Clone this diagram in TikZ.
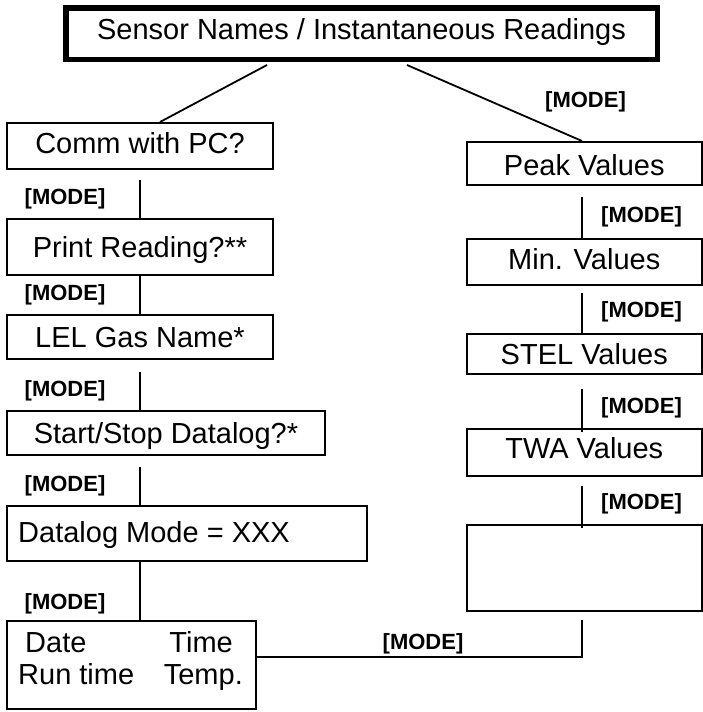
\documentclass[tikz,border=0pt]{standalone}
\usepackage{fontspec}
\setmainfont{Liberation Sans}
\usetikzlibrary{calc}
\begin{document}
\begin{tikzpicture}[x=1pt,y=-1pt,
  box/.style={draw, line width=2pt, inner sep=0pt, font=\fontsize{29}{34}\selectfont, text height=20.8pt, text depth=0pt},
  bigbox/.style={box, line width=5.5pt},
  modelbl/.style={inner sep=0pt, font=\fontsize{22}{26}\selectfont\bfseries, text height=15.75pt, text depth=0pt},
  txt/.style={inner sep=0pt, font=\fontsize{29}{34}\selectfont},
  conn/.style={line width=1.8pt}]
\useasboundingbox (0,0) rectangle (703,712);
% boxes
\node[bigbox, minimum width=591.5pt, minimum height=51.5pt, text depth=9pt] (top) at (361.5,33.5) {Sensor Names / Instantaneous Readings};
\node[box, minimum width=266pt, minimum height=46pt, text depth=5pt] (comm) at (140,146) {Comm with PC?};
\node[box, minimum width=266pt, minimum height=56pt] (print) at (140,247) {Print Reading?**\hspace{12pt}};
\node[box, minimum width=266pt, minimum height=44pt] (lel) at (140,337) {LEL Gas Name*};
\node[box, minimum width=318pt, minimum height=44pt] (start) at (166,433) {Start/Stop Datalog?*};
\node[box, minimum width=360pt, minimum height=55pt] (datalog) at (187,533.5) {};
\node[box, minimum width=249pt, minimum height=88pt] (date) at (131.5,665) {};
\node[box, minimum width=234.5pt, minimum height=43pt, text height=23.8pt] (peak) at (584.25,163.5) {Peak Values};
\node[box, minimum width=234.5pt, minimum height=46pt, text depth=6pt] (min) at (584.25,262) {Min. Values};
\node[box, minimum width=234.5pt, minimum height=40pt] (stel) at (584.25,354) {STEL Values};
\node[box, minimum width=234.5pt, minimum height=47pt, text depth=8pt] (twa) at (584.25,452.5) {TWA Values};
\node[box, minimum width=234.5pt, minimum height=86pt] (empty) at (584.25,568) {};
% texts inside boxes
\node[txt, anchor=west, text height=20.8pt, text depth=0pt] (dltext) at (18,532.5) {Datalog Mode = XXX};
\node[txt, anchor=base west] (dtdate) at (25,652) {Date};
\node[txt, anchor=base east] (dttime) at (233,652) {Time};
\node[txt, anchor=base west] (dtrun) at (18,684) {Run time};
\node[txt, anchor=base east] (dttemp) at (243,684) {Temp.};
% labels
\node[modelbl] (mt) at (585.5,100) {[MODE]};
\node[modelbl] (m1) at (65,197) {[MODE]};
\node[modelbl] (m2) at (65,293) {[MODE]};
\node[modelbl] (m3) at (65,389) {[MODE]};
\node[modelbl] (m4) at (65,484) {[MODE]};
\node[modelbl] (m5) at (65,602) {[MODE]};
\node[modelbl] (r1) at (641.5,215) {[MODE]};
\node[modelbl] (r2) at (641.5,310) {[MODE]};
\node[modelbl] (r3) at (641.5,406) {[MODE]};
\node[modelbl] (r4) at (641.5,502) {[MODE]};
\node[modelbl] (mb) at (423,642) {[MODE]};
% connectors
\coordinate (colL) at (140,0);
\coordinate (colR) at (582,0);
\coordinate (hturn) at (582,657);
\draw[conn] ($(top.south)+(-94.5,3)$) -- ($(comm.north)+(20,0)$);
\draw[conn] ($(top.south)+(45.5,3)$) -- ($(peak.north)+(-2.25,0)$);
\draw[conn] ($(comm.south)+(0,10)$) -- (print.north);
\draw[conn] (print.south) -- (lel.north);
\draw[conn] ($(lel.south)+(0,12)$) -- (lel.south |- start.north);
\draw[conn] ($(start.south -| colL)+(0,11)$) -- (colL |- datalog.north);
\draw[conn] (colL |- datalog.south) -- (colL |- date.north);
\draw[conn] ($(peak.south -| colR)+(0,11)$) -- (colR |- min.north);
\draw[conn] ($(min.south -| colR)+(0,7)$) -- (colR |- stel.north);
\draw[conn] ($(stel.south -| colR)+(0,14)$) -- ($(colR |- twa.north)+(0,4)$);
\draw[conn] ($(twa.south -| colR)+(0,9)$) -- ($(colR |- empty.north)+(0,4)$);
\draw[conn] ($(empty.south -| colR)+(0,8)$) -- (hturn) -- (hturn -| date.east);
\end{tikzpicture}
\end{document}
